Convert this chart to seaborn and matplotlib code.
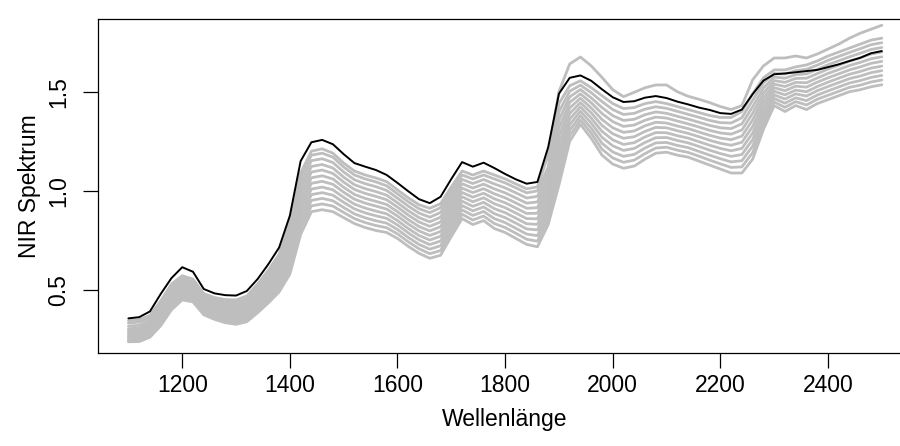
import matplotlib
matplotlib.use("Agg")
import matplotlib.pyplot as plt
import pandas as pd
import seaborn as sns

# ---------------- data ----------------
wavelength = [1100, 1120, 1140, 1160, 1180, 1200, 1220, 1240, 1260, 1280,
              1300, 1320, 1340, 1360, 1380, 1400, 1420, 1440, 1460, 1480,
              1500, 1520, 1540, 1560, 1580, 1600, 1620, 1640, 1660, 1680,
              1700, 1720, 1740, 1760, 1780, 1800, 1820, 1840, 1860, 1880,
              1900, 1920, 1940, 1960, 1980, 2000, 2020, 2040, 2060, 2080,
              2100, 2120, 2140, 2160, 2180, 2200, 2220, 2240, 2260, 2280,
              2300, 2320, 2340, 2360, 2380, 2400, 2420, 2440, 2460, 2480, 2500]

highlight = [0.357, 0.363, 0.392, 0.480, 0.560, 0.615, 0.592, 0.505, 0.483, 0.474,
             0.472, 0.495, 0.555, 0.630, 0.714, 0.875, 1.150, 1.245, 1.257, 1.235,
             1.185, 1.140, 1.122, 1.105, 1.080, 1.040, 0.998, 0.958, 0.938, 0.970,
             1.060, 1.145, 1.122, 1.142, 1.115, 1.085, 1.058, 1.036, 1.045, 1.220,
             1.490, 1.570, 1.582, 1.555, 1.512, 1.472, 1.448, 1.452, 1.470, 1.478,
             1.468, 1.450, 1.436, 1.420, 1.408, 1.392, 1.388, 1.410, 1.488, 1.556,
             1.588, 1.592, 1.598, 1.604, 1.610, 1.624, 1.638, 1.655, 1.671, 1.694, 1.705]

spectrum_01 = [0.239, 0.240, 0.262, 0.320, 0.400, 0.450, 0.440, 0.375, 0.352, 0.335,
               0.327, 0.340, 0.385, 0.435, 0.490, 0.580, 0.780, 0.895, 0.905, 0.895,
               0.865, 0.835, 0.815, 0.800, 0.790, 0.760, 0.720, 0.685, 0.660, 0.675,
               0.770, 0.860, 0.830, 0.850, 0.810, 0.790, 0.760, 0.730, 0.718, 0.830,
               1.030, 1.250, 1.335, 1.265, 1.180, 1.135, 1.114, 1.125, 1.160, 1.190,
               1.195, 1.180, 1.170, 1.150, 1.130, 1.110, 1.090, 1.090, 1.160, 1.310,
               1.430, 1.400, 1.430, 1.410, 1.440, 1.460, 1.480, 1.500, 1.510, 1.525, 1.535]

spectrum_02 = [0.245, 0.246, 0.270, 0.331, 0.412, 0.461, 0.450, 0.385, 0.362, 0.346,
               0.338, 0.352, 0.398, 0.450, 0.508, 0.604, 0.809, 0.924, 0.934, 0.923,
               0.891, 0.860, 0.840, 0.825, 0.814, 0.783, 0.743, 0.708, 0.683, 0.699,
               0.793, 0.882, 0.853, 0.873, 0.835, 0.815, 0.786, 0.756, 0.746, 0.859,
               1.071, 1.278, 1.357, 1.291, 1.210, 1.166, 1.144, 1.155, 1.188, 1.216,
               1.220, 1.205, 1.194, 1.175, 1.155, 1.136, 1.118, 1.121, 1.193, 1.336,
               1.448, 1.421, 1.450, 1.433, 1.462, 1.482, 1.502, 1.522, 1.533, 1.549, 1.559]

spectrum_03 = [0.252, 0.254, 0.278, 0.342, 0.423, 0.472, 0.460, 0.394, 0.372, 0.356,
               0.349, 0.364, 0.411, 0.465, 0.525, 0.628, 0.838, 0.952, 0.962, 0.950,
               0.916, 0.884, 0.864, 0.849, 0.837, 0.805, 0.765, 0.730, 0.706, 0.723,
               0.816, 0.904, 0.876, 0.896, 0.860, 0.840, 0.811, 0.782, 0.774, 0.888,
               1.112, 1.306, 1.379, 1.316, 1.240, 1.196, 1.174, 1.184, 1.216, 1.242,
               1.244, 1.229, 1.218, 1.199, 1.180, 1.162, 1.146, 1.152, 1.226, 1.362,
               1.466, 1.442, 1.469, 1.455, 1.483, 1.504, 1.524, 1.544, 1.556, 1.572, 1.582]

spectrum_04 = [0.260, 0.262, 0.287, 0.353, 0.435, 0.483, 0.470, 0.404, 0.381, 0.367,
               0.360, 0.375, 0.424, 0.480, 0.543, 0.652, 0.867, 0.981, 0.991, 0.978,
               0.942, 0.909, 0.889, 0.874, 0.861, 0.828, 0.788, 0.753, 0.729, 0.747,
               0.839, 0.926, 0.899, 0.919, 0.885, 0.865, 0.837, 0.808, 0.803, 0.917,
               1.153, 1.334, 1.401, 1.342, 1.270, 1.227, 1.204, 1.214, 1.244, 1.268,
               1.269, 1.254, 1.242, 1.224, 1.205, 1.188, 1.174, 1.183, 1.259, 1.388,
               1.484, 1.463, 1.489, 1.478, 1.505, 1.526, 1.546, 1.566, 1.579, 1.596, 1.606]

spectrum_05 = [0.268, 0.270, 0.296, 0.364, 0.446, 0.494, 0.480, 0.413, 0.391, 0.377,
               0.371, 0.387, 0.437, 0.495, 0.560, 0.676, 0.896, 1.009, 1.019, 1.005,
               0.967, 0.933, 0.913, 0.898, 0.884, 0.850, 0.810, 0.775, 0.752, 0.771,
               0.862, 0.948, 0.922, 0.942, 0.910, 0.890, 0.862, 0.834, 0.831, 0.946,
               1.194, 1.362, 1.423, 1.367, 1.300, 1.257, 1.234, 1.243, 1.272, 1.294,
               1.293, 1.278, 1.266, 1.248, 1.230, 1.214, 1.202, 1.214, 1.292, 1.414,
               1.502, 1.484, 1.508, 1.500, 1.526, 1.548, 1.568, 1.588, 1.602, 1.619, 1.629]

spectrum_06 = [0.277, 0.279, 0.305, 0.375, 0.458, 0.505, 0.490, 0.423, 0.401, 0.388,
               0.383, 0.399, 0.450, 0.510, 0.578, 0.700, 0.925, 1.038, 1.048, 1.033,
               0.993, 0.958, 0.938, 0.923, 0.908, 0.873, 0.833, 0.798, 0.775, 0.795,
               0.885, 0.970, 0.945, 0.965, 0.935, 0.915, 0.888, 0.860, 0.859, 0.975,
               1.235, 1.390, 1.445, 1.393, 1.330, 1.288, 1.265, 1.273, 1.300, 1.320,
               1.318, 1.303, 1.290, 1.273, 1.255, 1.240, 1.230, 1.245, 1.325, 1.440,
               1.520, 1.505, 1.528, 1.523, 1.548, 1.570, 1.590, 1.610, 1.625, 1.643, 1.653]

spectrum_07 = [0.285, 0.288, 0.315, 0.386, 0.469, 0.516, 0.500, 0.432, 0.411, 0.398,
               0.394, 0.411, 0.463, 0.525, 0.595, 0.724, 0.954, 1.066, 1.076, 1.060,
               1.018, 0.982, 0.962, 0.947, 0.931, 0.895, 0.855, 0.820, 0.798, 0.819,
               0.908, 0.992, 0.968, 0.988, 0.960, 0.940, 0.913, 0.886, 0.887, 1.004,
               1.276, 1.418, 1.467, 1.418, 1.360, 1.318, 1.295, 1.302, 1.328, 1.346,
               1.342, 1.327, 1.314, 1.297, 1.280, 1.266, 1.258, 1.276, 1.358, 1.466,
               1.538, 1.526, 1.547, 1.545, 1.569, 1.592, 1.612, 1.632, 1.648, 1.666, 1.676]

spectrum_08 = [0.295, 0.298, 0.325, 0.397, 0.481, 0.527, 0.510, 0.442, 0.421, 0.409,
               0.405, 0.423, 0.476, 0.540, 0.613, 0.748, 0.983, 1.095, 1.105, 1.088,
               1.044, 1.007, 0.987, 0.972, 0.955, 0.918, 0.878, 0.843, 0.821, 0.843,
               0.931, 1.014, 0.991, 1.011, 0.985, 0.965, 0.939, 0.912, 0.915, 1.033,
               1.317, 1.446, 1.489, 1.444, 1.390, 1.349, 1.325, 1.332, 1.356, 1.372,
               1.367, 1.352, 1.338, 1.322, 1.305, 1.292, 1.286, 1.307, 1.391, 1.492,
               1.556, 1.547, 1.567, 1.568, 1.591, 1.614, 1.634, 1.654, 1.671, 1.690, 1.700]

spectrum_09 = [0.305, 0.308, 0.335, 0.408, 0.492, 0.538, 0.520, 0.451, 0.430, 0.419,
               0.416, 0.434, 0.489, 0.555, 0.630, 0.772, 1.012, 1.123, 1.133, 1.115,
               1.069, 1.031, 1.011, 0.996, 0.978, 0.940, 0.900, 0.865, 0.844, 0.867,
               0.954, 1.036, 1.014, 1.034, 1.010, 0.990, 0.964, 0.938, 0.944, 1.062,
               1.358, 1.474, 1.511, 1.469, 1.420, 1.379, 1.355, 1.361, 1.384, 1.398,
               1.391, 1.376, 1.362, 1.346, 1.330, 1.318, 1.314, 1.338, 1.424, 1.518,
               1.574, 1.568, 1.586, 1.590, 1.612, 1.636, 1.656, 1.676, 1.694, 1.713, 1.723]

spectrum_10 = [0.318, 0.322, 0.347, 0.419, 0.504, 0.549, 0.530, 0.461, 0.440, 0.430,
               0.427, 0.446, 0.502, 0.570, 0.648, 0.796, 1.041, 1.152, 1.162, 1.143,
               1.095, 1.056, 1.036, 1.021, 1.002, 0.963, 0.923, 0.888, 0.867, 0.891,
               0.977, 1.058, 1.037, 1.057, 1.035, 1.015, 0.990, 0.964, 0.972, 1.091,
               1.399, 1.502, 1.533, 1.495, 1.450, 1.410, 1.385, 1.391, 1.412, 1.424,
               1.416, 1.401, 1.386, 1.371, 1.355, 1.344, 1.342, 1.369, 1.457, 1.544,
               1.592, 1.589, 1.606, 1.613, 1.634, 1.658, 1.678, 1.698, 1.717, 1.737, 1.747]

spectrum_11 = [0.333, 0.338, 0.360, 0.430, 0.515, 0.560, 0.540, 0.470, 0.450, 0.440,
               0.438, 0.458, 0.515, 0.585, 0.665, 0.820, 1.070, 1.180, 1.190, 1.170,
               1.120, 1.080, 1.060, 1.045, 1.025, 0.985, 0.945, 0.910, 0.890, 0.915,
               1.000, 1.080, 1.060, 1.080, 1.060, 1.040, 1.015, 0.990, 1.000, 1.120,
               1.440, 1.530, 1.555, 1.520, 1.480, 1.440, 1.415, 1.420, 1.440, 1.450,
               1.440, 1.425, 1.410, 1.395, 1.380, 1.370, 1.370, 1.400, 1.490, 1.570,
               1.610, 1.610, 1.625, 1.635, 1.655, 1.680, 1.700, 1.720, 1.740, 1.760, 1.770]

spectrum_12 = [0.345, 0.350, 0.372, 0.445, 0.530, 0.572, 0.555, 0.482, 0.462, 0.452,
               0.450, 0.470, 0.530, 0.600, 0.680, 0.840, 1.090, 1.200, 1.212, 1.190,
               1.140, 1.100, 1.080, 1.065, 1.046, 1.005, 0.965, 0.930, 0.912, 0.935,
               1.020, 1.100, 1.080, 1.100, 1.080, 1.060, 1.035, 1.010, 1.020, 1.180,
               1.500, 1.640, 1.675, 1.630, 1.572, 1.510, 1.475, 1.497, 1.520, 1.534,
               1.534, 1.500, 1.477, 1.462, 1.445, 1.425, 1.410, 1.430, 1.560, 1.630,
               1.670, 1.670, 1.680, 1.670, 1.690, 1.715, 1.740, 1.770, 1.795, 1.815, 1.835]

x_ticks = [1200, 1400, 1600, 1800, 2000, 2200, 2400]
y_ticks = [0.5, 1.0, 1.5]
y_tick_labels = ["0.5", "1.0", "1.5"]

grey_spectra = {
    "01": spectrum_01, "02": spectrum_02, "03": spectrum_03, "04": spectrum_04,
    "05": spectrum_05, "06": spectrum_06, "07": spectrum_07, "08": spectrum_08,
    "09": spectrum_09, "10": spectrum_10, "11": spectrum_11, "12": spectrum_12,
}

# long table for seaborn
frames = []
for name, vals in grey_spectra.items():
    frames.append(pd.DataFrame({"Wellenlänge": wavelength, "Spektrum": vals, "Probe": name}))
grey_df = pd.concat(frames, ignore_index=True)
black_df = pd.DataFrame({"Wellenlänge": wavelength, "Spektrum": highlight})

# ---------------- style ----------------
sns.set_style("white")
plt.rcParams["font.family"] = ["Liberation Sans", "DejaVu Sans"]

FS = 16.5

fig = plt.figure(figsize=(9.0, 4.46), dpi=100)
ax = fig.add_axes([0.1092, 0.2085, 0.9041, 0.7489])

sns.lineplot(data=grey_df, x="Wellenlänge", y="Spektrum", units="Probe",
             estimator=None, color="#BEBEBE", linewidth=2.0, ax=ax, legend=False)
sns.lineplot(data=black_df, x="Wellenlänge", y="Spektrum",
             color="black", linewidth=1.4, ax=ax, legend=False)

ax.set_xlim(1044, 2556)
ax.set_ylim(0.1823, 1.8666)
ax.set_xticks(x_ticks)
ax.set_xticklabels([str(t) for t in x_ticks])
ax.set_yticks(y_ticks)
ax.set_yticklabels(y_tick_labels, rotation=90, va="center")

for sp in ax.spines.values():
    sp.set_visible(True)
    sp.set_color("black")
    sp.set_linewidth(0.9)

ax.tick_params(axis="both", which="major", bottom=True, left=True,
               direction="out", length=11, width=0.9, color="black",
               labelsize=FS, labelcolor="black")
ax.tick_params(axis="x", pad=4)
ax.tick_params(axis="y", pad=9.5)

ax.set_xlabel("Wellenlänge", fontsize=FS, color="black", labelpad=8)
ax.set_ylabel("NIR Spektrum", fontsize=FS, color="black", labelpad=4)

fig.savefig("out.png", dpi=100)
